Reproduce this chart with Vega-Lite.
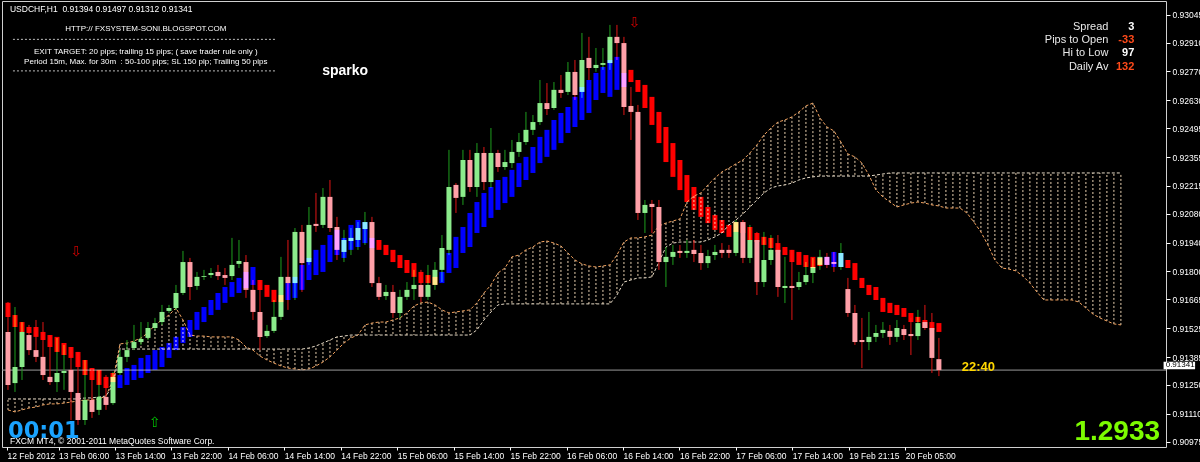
{
"$schema":"https://vega.github.io/schema/vega-lite/v6.json",
"width":1164,"height":446,
"padding":{"left":2,"top":1,"right":34,"bottom":15},
"autosize":{"type":"none"},
"background":"#000000",
"config":{"view":{"stroke":"#CFCFCF","strokeWidth":1},"axis":{"grid":false,"domain":false,"title":null,"labelOverlap":false,"labelSeparation":0,"labelBound":false,"labelFlush":false}},
"datasets":{
"cloud":[
{"i":0,"a":0.91148,"b":0.91201},{"i":1,"a":0.91138,"b":0.91201},{"i":2,"a":0.91148,"b":0.91201},{"i":3,"a":0.91157,"b":0.91201},{"i":4,"a":0.91162,"b":0.91201},{"i":5,"a":0.91172,"b":0.91201},{"i":6,"a":0.91177,"b":0.91201},{"i":7,"a":0.91177,"b":0.91201},{"i":8,"a":0.91181,"b":0.91201},{"i":9,"a":0.91186,"b":0.91201},
{"i":10,"a":0.91191,"b":0.91201},{"i":11,"a":0.91196,"b":0.91206},{"i":12,"a":0.91196,"b":0.91206},{"i":13,"a":0.91201,"b":0.91211},{"i":14,"a":0.91215,"b":0.91215},{"i":15,"a":0.91293,"b":0.91269},{"i":16,"a":0.91468,"b":0.91443},{"i":17,"a":0.91472,"b":0.91443},{"i":18,"a":0.91482,"b":0.91443},{"i":19,"a":0.91497,"b":0.91443},
{"i":20,"a":0.91521,"b":0.91443},{"i":21,"a":0.9156,"b":0.91443},{"i":22,"a":0.91584,"b":0.91443},{"i":23,"a":0.91608,"b":0.91443},{"i":24,"a":0.91642,"b":0.91443},{"i":25,"a":0.91584,"b":0.91443},{"i":26,"a":0.91511,"b":0.91443},{"i":27,"a":0.91506,"b":0.91443},{"i":28,"a":0.91506,"b":0.91443},{"i":29,"a":0.91502,"b":0.91443},
{"i":30,"a":0.91502,"b":0.91443},{"i":31,"a":0.91502,"b":0.91443},{"i":32,"a":0.91502,"b":0.91443},{"i":33,"a":0.91487,"b":0.91443},{"i":34,"a":0.91453,"b":0.91443},{"i":35,"a":0.91438,"b":0.91443},{"i":36,"a":0.91409,"b":0.91443},{"i":37,"a":0.9139,"b":0.91443},{"i":38,"a":0.91375,"b":0.91443},{"i":39,"a":0.91361,"b":0.91443},
{"i":40,"a":0.91351,"b":0.91443},{"i":41,"a":0.91346,"b":0.91443},{"i":42,"a":0.91342,"b":0.91443},{"i":43,"a":0.91346,"b":0.91448},{"i":44,"a":0.91361,"b":0.91458},{"i":45,"a":0.9138,"b":0.91472},{"i":46,"a":0.91405,"b":0.91487},{"i":47,"a":0.91438,"b":0.91502},{"i":48,"a":0.91472,"b":0.91506},{"i":49,"a":0.91497,"b":0.91511},
{"i":50,"a":0.91511,"b":0.91511},{"i":51,"a":0.9156,"b":0.91511},{"i":52,"a":0.91569,"b":0.91511},{"i":53,"a":0.91574,"b":0.91511},{"i":54,"a":0.91574,"b":0.91511},{"i":55,"a":0.91584,"b":0.91511},{"i":56,"a":0.91594,"b":0.91511},{"i":57,"a":0.91618,"b":0.91511},{"i":58,"a":0.91652,"b":0.91511},{"i":59,"a":0.91667,"b":0.91511},
{"i":60,"a":0.91671,"b":0.91511},{"i":61,"a":0.91657,"b":0.91511},{"i":62,"a":0.91633,"b":0.91511},{"i":63,"a":0.91618,"b":0.91511},{"i":64,"a":0.91623,"b":0.91511},{"i":65,"a":0.91628,"b":0.91511},{"i":66,"a":0.91633,"b":0.91511},{"i":67,"a":0.91667,"b":0.91536},{"i":68,"a":0.91715,"b":0.91584},{"i":69,"a":0.91754,"b":0.91623},
{"i":70,"a":0.91812,"b":0.91657},{"i":71,"a":0.91836,"b":0.91662},{"i":72,"a":0.9189,"b":0.91662},{"i":73,"a":0.91899,"b":0.91662},{"i":74,"a":0.91924,"b":0.91662},{"i":75,"a":0.91938,"b":0.91662},{"i":76,"a":0.91962,"b":0.91662},{"i":77,"a":0.91967,"b":0.91662},{"i":78,"a":0.91957,"b":0.91662},{"i":79,"a":0.91943,"b":0.91662},
{"i":80,"a":0.91909,"b":0.91662},{"i":81,"a":0.91875,"b":0.91662},{"i":82,"a":0.91856,"b":0.91662},{"i":83,"a":0.91846,"b":0.91662},{"i":84,"a":0.91841,"b":0.91662},{"i":85,"a":0.91846,"b":0.91662},{"i":86,"a":0.91851,"b":0.91662},{"i":87,"a":0.91899,"b":0.91705},{"i":88,"a":0.91962,"b":0.91768},{"i":89,"a":0.91982,"b":0.91778},
{"i":90,"a":0.91982,"b":0.91788},{"i":91,"a":0.91987,"b":0.91788},{"i":92,"a":0.91996,"b":0.91793},{"i":93,"a":0.9204,"b":0.91865},{"i":94,"a":0.92054,"b":0.91938},{"i":95,"a":0.92064,"b":0.91957},{"i":96,"a":0.92074,"b":0.91962},{"i":97,"a":0.92156,"b":0.91962},{"i":98,"a":0.92185,"b":0.91962},{"i":99,"a":0.922,"b":0.91962},
{"i":100,"a":0.92239,"b":0.91972},{"i":101,"a":0.92273,"b":0.91987},{"i":102,"a":0.92302,"b":0.92006},{"i":103,"a":0.92321,"b":0.92045},{"i":104,"a":0.92341,"b":0.92069},{"i":105,"a":0.9236,"b":0.92098},{"i":106,"a":0.92394,"b":0.92132},{"i":107,"a":0.92433,"b":0.92166},{"i":108,"a":0.92481,"b":0.922},{"i":109,"a":0.92515,"b":0.92224},
{"i":110,"a":0.92544,"b":0.92234},{"i":111,"a":0.92554,"b":0.92239},{"i":112,"a":0.92569,"b":0.92248},{"i":113,"a":0.92593,"b":0.92263},{"i":114,"a":0.92622,"b":0.92273},{"i":115,"a":0.92636,"b":0.92278},{"i":116,"a":0.92564,"b":0.92282},{"i":117,"a":0.9252,"b":0.92282},{"i":118,"a":0.92501,"b":0.92282},{"i":119,"a":0.92447,"b":0.92282},
{"i":120,"a":0.92389,"b":0.92282},{"i":121,"a":0.92375,"b":0.92282},{"i":122,"a":0.92345,"b":0.92282},{"i":123,"a":0.92287,"b":0.92282},{"i":124,"a":0.92215,"b":0.92287},{"i":125,"a":0.92181,"b":0.92292},{"i":126,"a":0.92156,"b":0.92297},{"i":127,"a":0.92132,"b":0.92297},{"i":128,"a":0.92142,"b":0.92297},{"i":129,"a":0.92151,"b":0.92297},
{"i":130,"a":0.92156,"b":0.92297},{"i":131,"a":0.92151,"b":0.92297},{"i":132,"a":0.92142,"b":0.92297},{"i":133,"a":0.92137,"b":0.92297},{"i":134,"a":0.92127,"b":0.92297},{"i":135,"a":0.92127,"b":0.92297},{"i":136,"a":0.92127,"b":0.92297},{"i":137,"a":0.92103,"b":0.92297},{"i":138,"a":0.92059,"b":0.92297},{"i":139,"a":0.92011,"b":0.92297},
{"i":140,"a":0.91948,"b":0.92297},{"i":141,"a":0.91875,"b":0.92297},{"i":142,"a":0.91836,"b":0.92297},{"i":143,"a":0.91831,"b":0.92297},{"i":144,"a":0.91822,"b":0.92297},{"i":145,"a":0.91797,"b":0.92297},{"i":146,"a":0.91763,"b":0.92297},{"i":147,"a":0.9172,"b":0.92297},{"i":148,"a":0.91681,"b":0.92297},{"i":149,"a":0.91681,"b":0.92297},
{"i":150,"a":0.91681,"b":0.92297},{"i":151,"a":0.91681,"b":0.92297},{"i":152,"a":0.91681,"b":0.92297},{"i":153,"a":0.91671,"b":0.92297},{"i":154,"a":0.91642,"b":0.92297},{"i":155,"a":0.91613,"b":0.92297},{"i":156,"a":0.91594,"b":0.92297},{"i":157,"a":0.91579,"b":0.92297},{"i":158,"a":0.91565,"b":0.92297},{"i":159,"a":0.9156,"b":0.92297}
],
"candles":[
{"i":0,"o":0.91526,"c":0.91269,"h":0.91671,"l":0.91245,"a":0.91667,"b":0.91599,"t":"r"},
{"i":1,"o":0.91278,"c":0.91356,"h":0.91647,"l":0.91235,"a":0.91608,"b":0.9155,"t":"r"},
{"i":2,"o":0.91356,"c":0.91526,"h":0.91574,"l":0.91293,"a":0.91574,"b":0.91526,"t":"r"},
{"i":3,"o":0.91511,"c":0.91438,"h":0.9156,"l":0.91414,"a":0.9155,"b":0.91521,"t":"r"},
{"i":4,"o":0.91438,"c":0.91405,"h":0.91584,"l":0.9138,"a":0.9155,"b":0.91502,"t":"r"},
{"i":5,"o":0.91405,"c":0.91317,"h":0.91574,"l":0.91293,"a":0.91526,"b":0.91487,"t":"r"},
{"i":6,"o":0.91308,"c":0.91283,"h":0.91511,"l":0.91269,"a":0.91511,"b":0.91453,"t":"r"},
{"i":7,"o":0.91283,"c":0.91327,"h":0.91497,"l":0.91235,"a":0.91502,"b":0.91429,"t":"r"},
{"i":8,"o":0.91327,"c":0.91337,"h":0.91463,"l":0.91245,"a":0.91472,"b":0.91414,"t":"r"},
{"i":9,"o":0.91342,"c":0.91235,"h":0.91453,"l":0.91099,"a":0.91453,"b":0.914,"t":"r"},
{"i":10,"o":0.9123,"c":0.91099,"h":0.91429,"l":0.91075,"a":0.91429,"b":0.91356,"t":"r"},
{"i":11,"o":0.91099,"c":0.91196,"h":0.9139,"l":0.91075,"a":0.9139,"b":0.91317,"t":"r"},
{"i":12,"o":0.91196,"c":0.91138,"h":0.91351,"l":0.91109,"a":0.91351,"b":0.91293,"t":"r"},
{"i":13,"o":0.91148,"c":0.91211,"h":0.91342,"l":0.91123,"a":0.91342,"b":0.91269,"t":"r"},
{"i":14,"o":0.91211,"c":0.91172,"h":0.91317,"l":0.91148,"a":0.91308,"b":0.91254,"t":"r"},
{"i":15,"o":0.91181,"c":0.91308,"h":0.91332,"l":0.91172,"a":0.91327,"b":0.91283,"t":"r"},
{"i":16,"o":0.91327,"c":0.91405,"h":0.91438,"l":0.91317,"a":0.91317,"b":0.91254,"t":"b"},
{"i":17,"o":0.91405,"c":0.91438,"h":0.91487,"l":0.9138,"a":0.91351,"b":0.91269,"t":"b"},
{"i":18,"o":0.91448,"c":0.91477,"h":0.9156,"l":0.91438,"a":0.91366,"b":0.91293,"t":"b"},
{"i":19,"o":0.91477,"c":0.91492,"h":0.91574,"l":0.91463,"a":0.914,"b":0.91303,"t":"b"},
{"i":20,"o":0.91497,"c":0.91545,"h":0.91574,"l":0.91487,"a":0.91414,"b":0.91327,"t":"b"},
{"i":21,"o":0.91545,"c":0.91569,"h":0.91594,"l":0.91536,"a":0.91438,"b":0.91342,"t":"b"},
{"i":22,"o":0.91574,"c":0.91623,"h":0.91657,"l":0.9156,"a":0.91453,"b":0.91356,"t":"b"},
{"i":23,"o":0.91628,"c":0.91642,"h":0.91657,"l":0.91618,"a":0.91472,"b":0.914,"t":"b"},
{"i":24,"o":0.91642,"c":0.91715,"h":0.91754,"l":0.91633,"a":0.91502,"b":0.91438,"t":"b"},
{"i":25,"o":0.91715,"c":0.91865,"h":0.91919,"l":0.91705,"a":0.9155,"b":0.91472,"t":"b"},
{"i":26,"o":0.91865,"c":0.91744,"h":0.91885,"l":0.91681,"a":0.91584,"b":0.91502,"t":"b"},
{"i":27,"o":0.91749,"c":0.91793,"h":0.91817,"l":0.9173,"a":0.91623,"b":0.91536,"t":"b"},
{"i":28,"o":0.91793,"c":0.91797,"h":0.91827,"l":0.91778,"a":0.91647,"b":0.91574,"t":"b"},
{"i":29,"o":0.91802,"c":0.91812,"h":0.91836,"l":0.91788,"a":0.91681,"b":0.91608,"t":"b"},
{"i":30,"o":0.91817,"c":0.91797,"h":0.91851,"l":0.91778,"a":0.91715,"b":0.91633,"t":"b"},
{"i":31,"o":0.91802,"c":0.91788,"h":0.91836,"l":0.91754,"a":0.91744,"b":0.91667,"t":"b"},
{"i":32,"o":0.91797,"c":0.91851,"h":0.91982,"l":0.91778,"a":0.91768,"b":0.91696,"t":"b"},
{"i":33,"o":0.91856,"c":0.9187,"h":0.91972,"l":0.91836,"a":0.91788,"b":0.91715,"t":"b"},
{"i":34,"o":0.91865,"c":0.9173,"h":0.91899,"l":0.91691,"a":0.91817,"b":0.91739,"t":"b"},
{"i":35,"o":0.9173,"c":0.91623,"h":0.91778,"l":0.91584,"a":0.91841,"b":0.91754,"t":"b"},
{"i":36,"o":0.91623,"c":0.91502,"h":0.91778,"l":0.91438,"a":0.91778,"b":0.9173,"t":"r"},
{"i":37,"o":0.91506,"c":0.91531,"h":0.9156,"l":0.91497,"a":0.91754,"b":0.91696,"t":"r"},
{"i":38,"o":0.91531,"c":0.91599,"h":0.91681,"l":0.91521,"a":0.9173,"b":0.91671,"t":"r"},
{"i":39,"o":0.91599,"c":0.91793,"h":0.9189,"l":0.91584,"a":0.91705,"b":0.91671,"t":"r"},
{"i":40,"o":0.91793,"c":0.91763,"h":0.91972,"l":0.91633,"a":0.91763,"b":0.91681,"t":"b"},
{"i":41,"o":0.91763,"c":0.92011,"h":0.9203,"l":0.91681,"a":0.91793,"b":0.91691,"t":"b"},
{"i":42,"o":0.92011,"c":0.9186,"h":0.92045,"l":0.9172,"a":0.91851,"b":0.9173,"t":"b"},
{"i":43,"o":0.91865,"c":0.92045,"h":0.92132,"l":0.91851,"a":0.91885,"b":0.91778,"t":"b"},
{"i":44,"o":0.9205,"c":0.9204,"h":0.922,"l":0.92011,"a":0.91924,"b":0.91802,"t":"b"},
{"i":45,"o":0.92045,"c":0.92181,"h":0.92224,"l":0.9203,"a":0.91948,"b":0.91817,"t":"b"},
{"i":46,"o":0.92181,"c":0.9203,"h":0.92263,"l":0.92011,"a":0.91996,"b":0.91865,"t":"b"},
{"i":47,"o":0.92035,"c":0.91924,"h":0.92084,"l":0.91875,"a":0.92021,"b":0.91899,"t":"b"},
{"i":48,"o":0.91914,"c":0.91972,"h":0.92021,"l":0.91865,"a":0.91982,"b":0.91885,"t":"b"},
{"i":49,"o":0.91967,"c":0.91982,"h":0.9203,"l":0.91899,"a":0.92045,"b":0.91924,"t":"b"},
{"i":50,"o":0.91972,"c":0.9203,"h":0.92059,"l":0.91924,"a":0.92069,"b":0.91938,"t":"b"},
{"i":51,"o":0.92025,"c":0.92059,"h":0.92108,"l":0.91948,"a":0.92059,"b":0.91957,"t":"b"},
{"i":52,"o":0.92059,"c":0.91763,"h":0.92084,"l":0.91744,"a":0.91982,"b":0.91933,"t":"b"},
{"i":53,"o":0.91763,"c":0.91696,"h":0.91793,"l":0.91681,"a":0.91972,"b":0.91924,"t":"r"},
{"i":54,"o":0.917,"c":0.9172,"h":0.91754,"l":0.91681,"a":0.91948,"b":0.91899,"t":"r"},
{"i":55,"o":0.9172,"c":0.91618,"h":0.91754,"l":0.91594,"a":0.91924,"b":0.91865,"t":"r"},
{"i":56,"o":0.91618,"c":0.91696,"h":0.9173,"l":0.91594,"a":0.91899,"b":0.91836,"t":"r"},
{"i":57,"o":0.91696,"c":0.9173,"h":0.91768,"l":0.91681,"a":0.91875,"b":0.91812,"t":"r"},
{"i":58,"o":0.91734,"c":0.91754,"h":0.91827,"l":0.91681,"a":0.9186,"b":0.91793,"t":"r"},
{"i":59,"o":0.91754,"c":0.91696,"h":0.91827,"l":0.91671,"a":0.91817,"b":0.91763,"t":"r"},
{"i":60,"o":0.91696,"c":0.91754,"h":0.91851,"l":0.91681,"a":0.91802,"b":0.91763,"t":"r"},
{"i":61,"o":0.91754,"c":0.91827,"h":0.91865,"l":0.9173,"a":0.91793,"b":0.91754,"t":"r"},
{"i":62,"o":0.91827,"c":0.91933,"h":0.91996,"l":0.91768,"a":0.91817,"b":0.91763,"t":"b"},
{"i":63,"o":0.91924,"c":0.92229,"h":0.92409,"l":0.91899,"a":0.91909,"b":0.91812,"t":"b"},
{"i":64,"o":0.92239,"c":0.92176,"h":0.92248,"l":0.92103,"a":0.91987,"b":0.91836,"t":"b"},
{"i":65,"o":0.92181,"c":0.9236,"h":0.92409,"l":0.92142,"a":0.92035,"b":0.91909,"t":"b"},
{"i":66,"o":0.9236,"c":0.92229,"h":0.92409,"l":0.92205,"a":0.92103,"b":0.91938,"t":"b"},
{"i":67,"o":0.92229,"c":0.92394,"h":0.92442,"l":0.92181,"a":0.92156,"b":0.92006,"t":"b"},
{"i":68,"o":0.92394,"c":0.92253,"h":0.92423,"l":0.92214,"a":0.922,"b":0.92035,"t":"b"},
{"i":69,"o":0.92253,"c":0.92394,"h":0.92515,"l":0.92224,"a":0.92229,"b":0.92079,"t":"b"},
{"i":70,"o":0.92394,"c":0.92326,"h":0.92409,"l":0.92302,"a":0.92263,"b":0.92118,"t":"b"},
{"i":71,"o":0.92326,"c":0.9235,"h":0.92409,"l":0.92312,"a":0.92278,"b":0.92151,"t":"b"},
{"i":72,"o":0.92345,"c":0.92399,"h":0.92457,"l":0.92321,"a":0.92312,"b":0.92181,"t":"b"},
{"i":73,"o":0.92399,"c":0.92447,"h":0.92491,"l":0.92375,"a":0.92345,"b":0.92229,"t":"b"},
{"i":74,"o":0.92447,"c":0.92506,"h":0.92593,"l":0.92433,"a":0.92375,"b":0.92263,"t":"b"},
{"i":75,"o":0.92506,"c":0.92544,"h":0.92578,"l":0.92481,"a":0.92423,"b":0.92297,"t":"b"},
{"i":76,"o":0.92544,"c":0.92636,"h":0.92748,"l":0.9253,"a":0.92472,"b":0.92345,"t":"b"},
{"i":77,"o":0.92636,"c":0.92607,"h":0.92733,"l":0.92578,"a":0.92506,"b":0.92375,"t":"b"},
{"i":78,"o":0.92612,"c":0.927,"h":0.92738,"l":0.92603,"a":0.92554,"b":0.92409,"t":"b"},
{"i":79,"o":0.927,"c":0.92685,"h":0.92772,"l":0.92661,"a":0.92588,"b":0.92442,"t":"b"},
{"i":80,"o":0.9269,"c":0.92787,"h":0.92835,"l":0.92675,"a":0.92617,"b":0.92491,"t":"b"},
{"i":81,"o":0.92787,"c":0.92675,"h":0.92845,"l":0.92651,"a":0.92666,"b":0.9252,"t":"b"},
{"i":82,"o":0.9269,"c":0.92845,"h":0.92976,"l":0.92661,"a":0.92714,"b":0.92554,"t":"b"},
{"i":83,"o":0.92855,"c":0.92806,"h":0.92957,"l":0.92748,"a":0.92748,"b":0.92588,"t":"b"},
{"i":84,"o":0.92806,"c":0.92821,"h":0.92903,"l":0.92787,"a":0.92782,"b":0.92651,"t":"b"},
{"i":85,"o":0.92821,"c":0.9283,"h":0.92903,"l":0.92797,"a":0.92811,"b":0.92685,"t":"b"},
{"i":86,"o":0.9283,"c":0.92957,"h":0.93015,"l":0.92797,"a":0.92845,"b":0.92666,"t":"b"},
{"i":87,"o":0.92957,"c":0.92927,"h":0.93015,"l":0.92845,"a":0.9286,"b":0.927,"t":"b"},
{"i":88,"o":0.92927,"c":0.92617,"h":0.92957,"l":0.92578,"a":0.92782,"b":0.92714,"t":"b"},
{"i":89,"o":0.92622,"c":0.92593,"h":0.92714,"l":0.92457,"a":0.92797,"b":0.92738,"t":"r"},
{"i":90,"o":0.92593,"c":0.92103,"h":0.92627,"l":0.92069,"a":0.92748,"b":0.9269,"t":"r"},
{"i":91,"o":0.92103,"c":0.92142,"h":0.92166,"l":0.92006,"a":0.92724,"b":0.92612,"t":"r"},
{"i":92,"o":0.92147,"c":0.92132,"h":0.92166,"l":0.92006,"a":0.92666,"b":0.9253,"t":"r"},
{"i":93,"o":0.92132,"c":0.91865,"h":0.92166,"l":0.91827,"a":0.92593,"b":0.92442,"t":"r"},
{"i":94,"o":0.91865,"c":0.9189,"h":0.91938,"l":0.91744,"a":0.9252,"b":0.9235,"t":"r"},
{"i":95,"o":0.9189,"c":0.91914,"h":0.91948,"l":0.91851,"a":0.92442,"b":0.92278,"t":"r"},
{"i":96,"o":0.91919,"c":0.91909,"h":0.91948,"l":0.91885,"a":0.9236,"b":0.92214,"t":"r"},
{"i":97,"o":0.91909,"c":0.91919,"h":0.91972,"l":0.91885,"a":0.92287,"b":0.92156,"t":"r"},
{"i":98,"o":0.91924,"c":0.91904,"h":0.91972,"l":0.91865,"a":0.92229,"b":0.92118,"t":"r"},
{"i":99,"o":0.91909,"c":0.9186,"h":0.91948,"l":0.91827,"a":0.92181,"b":0.92084,"t":"r"},
{"i":100,"o":0.9186,"c":0.91894,"h":0.91924,"l":0.91836,"a":0.92132,"b":0.92054,"t":"r"},
{"i":101,"o":0.91899,"c":0.91914,"h":0.91948,"l":0.91875,"a":0.92093,"b":0.92021,"t":"r"},
{"i":102,"o":0.91924,"c":0.91909,"h":0.91957,"l":0.91885,"a":0.92069,"b":0.92006,"t":"r"},
{"i":103,"o":0.91924,"c":0.91909,"h":0.91948,"l":0.91885,"a":0.92045,"b":0.91987,"t":"r"},
{"i":104,"o":0.91909,"c":0.92059,"h":0.92069,"l":0.91894,"a":0.92059,"b":0.92011,"t":"r"},
{"i":105,"o":0.92059,"c":0.91885,"h":0.92069,"l":0.9186,"a":0.92059,"b":0.92006,"t":"r"},
{"i":106,"o":0.91885,"c":0.91972,"h":0.92045,"l":0.9186,"a":0.92035,"b":0.91972,"t":"r"},
{"i":107,"o":0.91972,"c":0.91768,"h":0.92011,"l":0.91705,"a":0.92006,"b":0.91962,"t":"r"},
{"i":108,"o":0.91768,"c":0.91875,"h":0.92011,"l":0.91744,"a":0.91987,"b":0.91948,"t":"r"},
{"i":109,"o":0.91875,"c":0.91924,"h":0.91996,"l":0.91851,"a":0.91982,"b":0.91933,"t":"r"},
{"i":110,"o":0.91924,"c":0.91744,"h":0.91996,"l":0.91696,"a":0.91957,"b":0.91914,"t":"r"},
{"i":111,"o":0.91739,"c":0.91749,"h":0.9189,"l":0.91666,"a":0.91938,"b":0.91899,"t":"r"},
{"i":112,"o":0.91749,"c":0.91739,"h":0.91924,"l":0.91584,"a":0.91924,"b":0.91865,"t":"r"},
{"i":113,"o":0.91744,"c":0.91768,"h":0.91817,"l":0.9173,"a":0.91914,"b":0.91851,"t":"r"},
{"i":114,"o":0.91768,"c":0.91802,"h":0.91865,"l":0.91754,"a":0.91899,"b":0.91841,"t":"r"},
{"i":115,"o":0.91812,"c":0.91841,"h":0.91885,"l":0.91763,"a":0.9189,"b":0.91836,"t":"r"},
{"i":116,"o":0.91851,"c":0.9189,"h":0.91924,"l":0.91827,"a":0.91885,"b":0.91846,"t":"r"},
{"i":117,"o":0.9189,"c":0.91851,"h":0.91909,"l":0.91836,"a":0.9189,"b":0.91851,"t":"b"},
{"i":118,"o":0.91865,"c":0.91856,"h":0.91914,"l":0.91817,"a":0.91914,"b":0.91841,"t":"b"},
{"i":119,"o":0.91841,"c":0.91909,"h":0.91957,"l":0.91827,"a":0.91909,"b":0.91841,"t":"b"},
{"i":120,"o":0.91734,"c":0.91618,"h":0.91788,"l":0.91599,"a":0.91875,"b":0.91836,"t":"r"},
{"i":121,"o":0.91618,"c":0.91477,"h":0.91657,"l":0.91463,"a":0.9186,"b":0.91778,"t":"r"},
{"i":122,"o":0.91487,"c":0.91477,"h":0.91594,"l":0.91351,"a":0.91788,"b":0.91739,"t":"r"},
{"i":123,"o":0.91477,"c":0.91502,"h":0.91623,"l":0.91438,"a":0.91754,"b":0.91705,"t":"r"},
{"i":124,"o":0.91502,"c":0.91521,"h":0.9156,"l":0.91477,"a":0.91744,"b":0.91681,"t":"r"},
{"i":125,"o":0.91521,"c":0.91536,"h":0.91574,"l":0.91497,"a":0.91691,"b":0.91623,"t":"r"},
{"i":126,"o":0.91531,"c":0.91502,"h":0.9156,"l":0.91463,"a":0.91667,"b":0.91618,"t":"r"},
{"i":127,"o":0.91502,"c":0.91545,"h":0.91584,"l":0.91477,"a":0.91657,"b":0.91608,"t":"r"},
{"i":128,"o":0.9154,"c":0.91511,"h":0.9156,"l":0.91487,"a":0.91642,"b":0.91599,"t":"r"},
{"i":129,"o":0.91516,"c":0.91506,"h":0.91594,"l":0.91414,"a":0.91618,"b":0.91574,"t":"r"},
{"i":130,"o":0.91506,"c":0.91569,"h":0.91633,"l":0.91487,"a":0.91599,"b":0.91574,"t":"r"},
{"i":131,"o":0.91574,"c":0.91545,"h":0.91657,"l":0.91536,"a":0.91584,"b":0.91545,"t":"r"},
{"i":132,"o":0.91545,"c":0.914,"h":0.91618,"l":0.91327,"a":0.91574,"b":0.91536,"t":"r"},
{"i":133,"o":0.91394,"c":0.91341,"h":0.91497,"l":0.91312,"a":0.91569,"b":0.91526,"t":"r"}
],
"notes":[
{"k":"hdr","i":0.28,"p":0.93092,"t":"USDCHF,H1\u00a0 0.91394 0.91497 0.91312 0.91341"},
{"k":"hdr","i":0.28,"p":0.90997,"t":"FXCM MT4, © 2001-2011 MetaQuotes Software Corp."},
{"k":"mid","i":19.69,"p":0.92994,"t":"HTTP:// FXSYSTEM-SONI.BLOGSPOT.COM"},
{"k":"mid","i":19.69,"p":0.92885,"t":"EXIT TARGET: 20 pips; trailing 15 pips; ( save trader rule only )"},
{"k":"mid","i":19.69,"p":0.92837,"t":"Period 15m, Max. for 30m\u00a0 : 50-100 pips; SL 150 pip; Trailing 50 pips"},
{"k":"sparko","i":48.16,"p":0.92792,"t":"sparko"},
{"k":"lab","i":157.22,"p":0.93005,"t":"Spread"},
{"k":"lab","i":157.22,"p":0.92942,"t":"Pips to Open"},
{"k":"lab","i":157.22,"p":0.92879,"t":"Hi to Low"},
{"k":"lab","i":157.22,"p":0.92811,"t":"Daily Av"},
{"k":"vw","i":160.91,"p":0.93005,"t":"3"},
{"k":"vr","i":160.91,"p":0.92942,"t":"-33"},
{"k":"vw","i":160.91,"p":0.92879,"t":"97"},
{"k":"vr","i":160.91,"p":0.92811,"t":"132"},
{"k":"clock","i":0,"p":0.91046,"t":"00:01"},
{"k":"bid","i":164.59,"p":0.91041,"t":"1.2933"},
{"k":"cd","i":136.26,"p":0.91356,"t":"22:40"},
{"k":"dn","i":9.73,"p":0.91914,"t":"⇩"},
{"k":"dn","i":89.5,"p":0.93023,"t":"⇩"},
{"k":"up","i":20.96,"p":0.91084,"t":"⇧"},
{"k":"box","i":165.4,"p":0.91364,"t":"0.91341"}
],
"seps":[{"i":0.71,"i2":38.24,"p":0.92945},{"i":0.71,"i2":38.24,"p":0.92792}],
"box":[{"i":165.1,"i2":169.6,"p1":0.91345,"p2":0.91382}]
},
"layer":[
{"data":{"name":"cloud"},"mark":{"type":"rule","strokeDash":[2,2],"color":"#E8D0B0","strokeWidth":1},
 "encoding":{
  "x":{"field":"i","type":"quantitative","scale":{"domain":[-0.142,164.73],"nice":false,"zero":false},
   "axis":{"orient":"bottom","values":[-0.142,7.224,15.288,23.352,31.416,39.48,47.544,55.608,63.672,71.736,79.8,87.864,95.928,103.992,112.056,120.12,128.184],"tickCount":60,
    "labelExpr":"datum.value < 0 ? '12 Feb 2012' : ['13 Feb 06:00','13 Feb 14:00','13 Feb 22:00','14 Feb 06:00','14 Feb 14:00','14 Feb 22:00','15 Feb 06:00','15 Feb 14:00','15 Feb 22:00','16 Feb 06:00','16 Feb 14:00','16 Feb 22:00','17 Feb 06:00','17 Feb 14:00','19 Feb 21:15','20 Feb 05:00'][round((datum.value - 7.224) / 8.064)]",
    "labelAlign":"left","labelDx":2,"labelColor":"#FFFFFF","labelFont":"Liberation Sans","labelFontSize":8.5,"ticks":true,"labels":true,"tickColor":"#FFFFFF","tickSize":3,"labelPadding":1,"domain":false,"grid":false,"title":null,"labelOverlap":false,"labelFlush":false,"labelBound":false}},
  "y":{"field":"a","type":"quantitative","scale":{"domain":[0.90968,0.93131],"nice":false,"zero":false},
   "axis":{"orient":"right","values":[0.93045,0.9291,0.9277,0.9263,0.92495,0.92355,0.92215,0.9208,0.9194,0.918,0.91665,0.91525,0.91385,0.9125,0.9111,0.90975],"tickCount":60,
    "format":".5f","labelColor":"#FFFFFF","labelFont":"Liberation Sans","labelFontSize":8.5,"ticks":true,"labels":true,"tickColor":"#FFFFFF","tickSize":4,"labelPadding":2,"domain":false,"grid":false,"title":null,"tickOffset":-4,"labelOverlap":false,"labelSeparation":0,"labelFlush":false,"labelBound":false}},
  "y2":{"field":"b"}}},
{"data":{"name":"cloud"},"mark":{"type":"line","strokeDash":[3,2],"color":"#F4A460","strokeWidth":1},
 "encoding":{"x":{"field":"i","type":"quantitative","scale":{"domain":[-0.142,164.73],"nice":false,"zero":false}},
  "y":{"field":"a","type":"quantitative","scale":{"domain":[0.90968,0.93131],"nice":false,"zero":false}}}},
{"data":{"name":"cloud"},"mark":{"type":"line","strokeDash":[3,2],"color":"#E8DCC8","strokeWidth":1},
 "encoding":{"x":{"field":"i","type":"quantitative","scale":{"domain":[-0.142,164.73],"nice":false,"zero":false}},
  "y":{"field":"b","type":"quantitative","scale":{"domain":[0.90968,0.93131],"nice":false,"zero":false}}}},
{"data":{"name":"seps"},"mark":{"type":"rule","strokeDash":[2,2],"color":"#BDBDBD"},
 "encoding":{"x":{"field":"i","type":"quantitative","scale":{"domain":[-0.142,164.73],"nice":false,"zero":false}},"x2":{"field":"i2"},
  "y":{"field":"p","type":"quantitative","scale":{"domain":[0.90968,0.93131],"nice":false,"zero":false}}}},
{"data":{"values":[{"p":0.91341}]},"mark":{"type":"rule","color":"#9A9A9A","strokeWidth":1},
 "encoding":{"y":{"field":"p","type":"quantitative","scale":{"domain":[0.90968,0.93131],"nice":false,"zero":false}}}},
{"data":{"name":"candles"},"mark":{"type":"rule","strokeWidth":1},
 "encoding":{"x":{"field":"i","type":"quantitative","scale":{"domain":[-0.142,164.73],"nice":false,"zero":false}},
  "y":{"field":"l","type":"quantitative","scale":{"domain":[0.90968,0.93131],"nice":false,"zero":false}},"y2":{"field":"h"},
  "color":{"condition":{"test":"datum.c >= datum.o","value":"#1E9E1E"},"value":"#E01515"}}},
{"data":{"name":"candles"},"mark":{"type":"bar","size":5},
 "encoding":{"x":{"field":"i","type":"quantitative","scale":{"domain":[-0.142,164.73],"nice":false,"zero":false}},
  "y":{"field":"o","type":"quantitative","scale":{"domain":[0.90968,0.93131],"nice":false,"zero":false}},"y2":{"field":"c"},
  "color":{"condition":{"test":"datum.c >= datum.o","value":"#8CEB8C"},"value":"#FFA0A8"}}},
{"data":{"name":"candles"},"mark":{"type":"bar","size":5,"blend":"screen"},
 "encoding":{"x":{"field":"i","type":"quantitative","scale":{"domain":[-0.142,164.73],"nice":false,"zero":false}},
  "y":{"field":"a","type":"quantitative","scale":{"domain":[0.90968,0.93131],"nice":false,"zero":false}},"y2":{"field":"b"},
  "color":{"field":"t","type":"nominal","scale":{"domain":["r","b"],"range":["#FF0000","#0000FF"]},"legend":null}}},
{"data":{"name":"box"},"mark":{"type":"rect","color":"#FFFFFF"},
 "encoding":{"x":{"field":"i","type":"quantitative","scale":{"domain":[-0.142,164.73],"nice":false,"zero":false}},"x2":{"field":"i2"},
  "y":{"field":"p1","type":"quantitative","scale":{"domain":[0.90968,0.93131],"nice":false,"zero":false}},"y2":{"field":"p2"}}},
{"data":{"name":"notes"},"transform":[{"filter":"datum.k == 'box'"}],"mark":{"type":"text","align":"left","baseline":"middle","font":"Liberation Sans","fontSize":8,"color":"#000000"},
 "encoding":{"x":{"field":"i","type":"quantitative","scale":{"domain":[-0.142,164.73],"nice":false,"zero":false}},
  "y":{"field":"p","type":"quantitative","scale":{"domain":[0.90968,0.93131],"nice":false,"zero":false}},"text":{"field":"t"}}},
{"data":{"name":"notes"},"transform":[{"filter":"datum.k == 'hdr'"}],"mark":{"type":"text","align":"left","baseline":"middle","font":"Liberation Sans","fontSize":8.5,"color":"#FFFFFF"},
 "encoding":{"x":{"field":"i","type":"quantitative","scale":{"domain":[-0.142,164.73],"nice":false,"zero":false}},
  "y":{"field":"p","type":"quantitative","scale":{"domain":[0.90968,0.93131],"nice":false,"zero":false}},"text":{"field":"t"}}},
{"data":{"name":"notes"},"transform":[{"filter":"datum.k == 'mid'"}],"mark":{"type":"text","align":"center","baseline":"middle","font":"Liberation Sans","fontSize":8,"color":"#FFFFFF"},
 "encoding":{"x":{"field":"i","type":"quantitative","scale":{"domain":[-0.142,164.73],"nice":false,"zero":false}},
  "y":{"field":"p","type":"quantitative","scale":{"domain":[0.90968,0.93131],"nice":false,"zero":false}},"text":{"field":"t"}}},
{"data":{"name":"notes"},"transform":[{"filter":"datum.k == 'sparko'"}],"mark":{"type":"text","align":"center","baseline":"middle","font":"Liberation Sans","fontSize":14,"fontWeight":"bold","color":"#FFFFFF"},
 "encoding":{"x":{"field":"i","type":"quantitative","scale":{"domain":[-0.142,164.73],"nice":false,"zero":false}},
  "y":{"field":"p","type":"quantitative","scale":{"domain":[0.90968,0.93131],"nice":false,"zero":false}},"text":{"field":"t"}}},
{"data":{"name":"notes"},"transform":[{"filter":"datum.k == 'lab'"}],"mark":{"type":"text","align":"right","baseline":"middle","font":"Liberation Sans","fontSize":11,"color":"#E8E8E8"},
 "encoding":{"x":{"field":"i","type":"quantitative","scale":{"domain":[-0.142,164.73],"nice":false,"zero":false}},
  "y":{"field":"p","type":"quantitative","scale":{"domain":[0.90968,0.93131],"nice":false,"zero":false}},"text":{"field":"t"}}},
{"data":{"name":"notes"},"transform":[{"filter":"datum.k == 'vw'"}],"mark":{"type":"text","align":"right","baseline":"middle","font":"Liberation Sans","fontSize":11,"fontWeight":"bold","color":"#FFFFFF"},
 "encoding":{"x":{"field":"i","type":"quantitative","scale":{"domain":[-0.142,164.73],"nice":false,"zero":false}},
  "y":{"field":"p","type":"quantitative","scale":{"domain":[0.90968,0.93131],"nice":false,"zero":false}},"text":{"field":"t"}}},
{"data":{"name":"notes"},"transform":[{"filter":"datum.k == 'vr'"}],"mark":{"type":"text","align":"right","baseline":"middle","font":"Liberation Sans","fontSize":11,"fontWeight":"bold","color":"#FF4A1A"},
 "encoding":{"x":{"field":"i","type":"quantitative","scale":{"domain":[-0.142,164.73],"nice":false,"zero":false}},
  "y":{"field":"p","type":"quantitative","scale":{"domain":[0.90968,0.93131],"nice":false,"zero":false}},"text":{"field":"t"}}},
{"data":{"name":"notes"},"transform":[{"filter":"datum.k == 'clock'"}],"mark":{"type":"text","align":"left","baseline":"middle","font":"DejaVu Sans","fontSize":22.5,"fontWeight":"bold","color":"#1AA3FF"},
 "encoding":{"x":{"field":"i","type":"quantitative","scale":{"domain":[-0.142,164.73],"nice":false,"zero":false}},
  "y":{"field":"p","type":"quantitative","scale":{"domain":[0.90968,0.93131],"nice":false,"zero":false}},"text":{"field":"t"}}},
{"data":{"name":"notes"},"transform":[{"filter":"datum.k == 'bid'"}],"mark":{"type":"text","align":"right","baseline":"middle","font":"Liberation Sans","fontSize":28,"fontWeight":"bold","color":"#7CFC00"},
 "encoding":{"x":{"field":"i","type":"quantitative","scale":{"domain":[-0.142,164.73],"nice":false,"zero":false}},
  "y":{"field":"p","type":"quantitative","scale":{"domain":[0.90968,0.93131],"nice":false,"zero":false}},"text":{"field":"t"}}},
{"data":{"name":"notes"},"transform":[{"filter":"datum.k == 'cd'"}],"mark":{"type":"text","align":"left","baseline":"middle","font":"Liberation Sans","fontSize":13,"fontWeight":"bold","color":"#FFD700"},
 "encoding":{"x":{"field":"i","type":"quantitative","scale":{"domain":[-0.142,164.73],"nice":false,"zero":false}},
  "y":{"field":"p","type":"quantitative","scale":{"domain":[0.90968,0.93131],"nice":false,"zero":false}},"text":{"field":"t"}}},
{"data":{"name":"notes"},"transform":[{"filter":"datum.k == 'dn'"}],"mark":{"type":"text","align":"center","baseline":"middle","font":"DejaVu Sans","fontSize":14,"color":"#D00000"},
 "encoding":{"x":{"field":"i","type":"quantitative","scale":{"domain":[-0.142,164.73],"nice":false,"zero":false}},
  "y":{"field":"p","type":"quantitative","scale":{"domain":[0.90968,0.93131],"nice":false,"zero":false}},"text":{"field":"t"}}},
{"data":{"name":"notes"},"transform":[{"filter":"datum.k == 'up'"}],"mark":{"type":"text","align":"center","baseline":"middle","font":"DejaVu Sans","fontSize":14,"color":"#00C000"},
 "encoding":{"x":{"field":"i","type":"quantitative","scale":{"domain":[-0.142,164.73],"nice":false,"zero":false}},
  "y":{"field":"p","type":"quantitative","scale":{"domain":[0.90968,0.93131],"nice":false,"zero":false}},"text":{"field":"t"}}}
]
}
